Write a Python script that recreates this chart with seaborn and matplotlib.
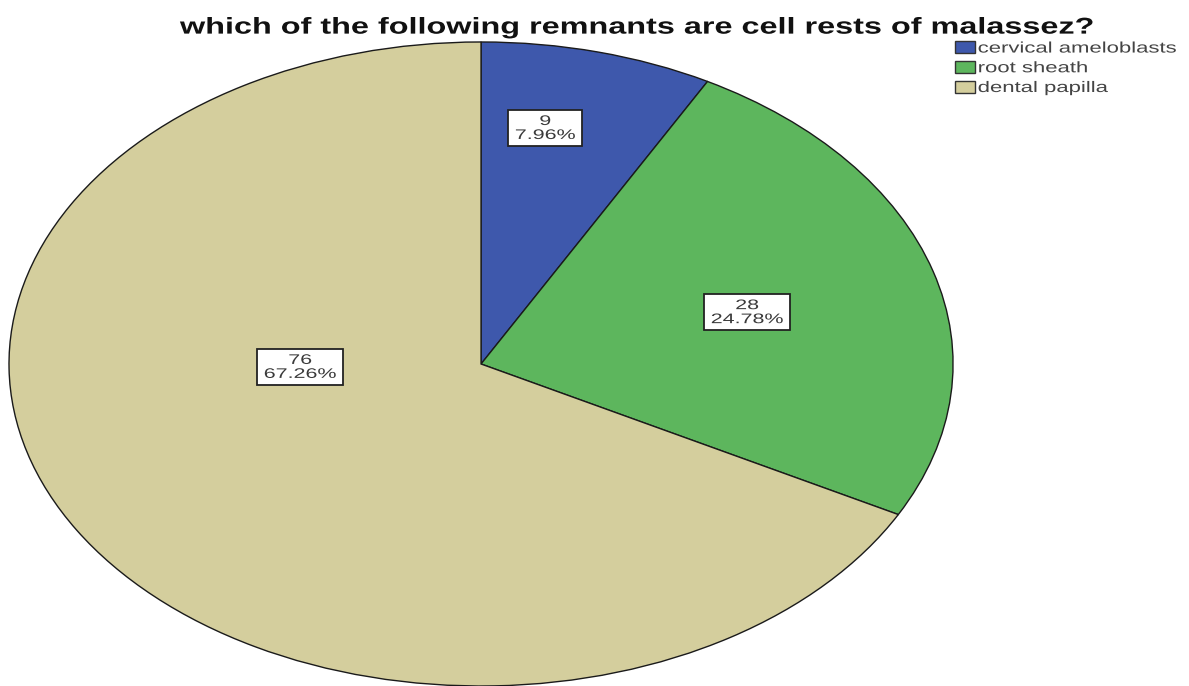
import matplotlib
matplotlib.use("Agg")
from matplotlib import pyplot as plt
from matplotlib.patheffects import AbstractPathEffect
from matplotlib.transforms import Affine2D
import seaborn as sns

# Data
categories = ["cervical ameloblasts", "root sheath", "dental papilla"]
counts = [9, 28, 76]
percents = [7.96, 24.78, 67.26]

colors = sns.color_palette(["#3E58AC", "#5DB65D", "#D4CE9D"])
# label box centres (axes data units, pie radius = 1)
label_pos = [(0.136, 0.733), (0.564, 0.161), (-0.383, -0.009)]


class Stretch(AbstractPathEffect):
    """Widen drawn glyphs/boxes horizontally about their left edge or centre."""

    def __init__(self, sx, anchor="center"):
        super().__init__()
        self.sx = sx
        self.anchor = anchor

    def draw_path(self, renderer, gc, tpath, affine, rgbFace=None):
        if self.anchor == "left":
            cx = affine.transform((0, 0))[0]
        else:
            ext = tpath.get_extents(affine)
            cx = (ext.x0 + ext.x1) / 2
        new = affine + Affine2D().translate(-cx, 0).scale(self.sx, 1).translate(cx, 0)
        renderer.draw_path(gc, tpath, new, rgbFace)


sns.set_style("white")
plt.rcParams["font.family"] = ["Liberation Sans", "DejaVu Sans"]

fig = plt.figure(figsize=(11.89, 6.86), dpi=100)
ax = fig.add_axes([0.00757, 0.0, 0.794, 0.9388])

wedges, _ = ax.pie(counts, colors=colors, startangle=90, counterclock=False,
                   radius=1.0, wedgeprops=dict(edgecolor="#1a1a1a", linewidth=1.0))
ax.set_aspect("auto")
ax.set_xlim(-1, 1)
ax.set_ylim(-1, 1)
ax.axis("off")

labels = []
for (x, y), c, p in zip(label_pos, counts, percents):
    t = ax.text(x, y, f"{c}\n{p:.2f}%", ha="center", va="center", fontsize=10,
                color="#3a3a3a", linespacing=1.0,
                bbox=dict(boxstyle="square,pad=0.3", facecolor="white",
                          edgecolor="#222222", linewidth=1.3))
    labels.append(t)

title = fig.text(180 / 1189, 0.951, "which of the following remnants are cell rests of malassez?",
                 ha="left", va="baseline", fontsize=16.5, fontweight="bold", color="#111111")

leg = fig.legend(wedges, categories, loc="upper left", bbox_to_anchor=(0.803, 0.94),
                 frameon=False, fontsize=11, handlelength=1.3, handleheight=0.85,
                 handletextpad=0.2, labelspacing=0.35, borderaxespad=0, borderpad=0,
                 labelcolor="#444444")
for h in leg.legend_handles:
    h.set_edgecolor("#333333")
    h.set_linewidth(1.0)

# the reference picture is stretched sideways; widen text to the measured widths
fig.canvas.draw()
r = fig.canvas.get_renderer()

sx_title = 912 / title.get_window_extent(r).width
title.set_path_effects([Stretch(sx_title, "left")])

leg_w = max(t.get_window_extent(r).width for t in leg.get_texts())
sx_leg = 198 / leg_w
for txt in leg.get_texts():
    txt.set_path_effects([Stretch(sx_leg, "left")])

lab_w = labels[2].get_window_extent(r).width
sx_lab = 73 / lab_w
for t in labels:
    t.set_path_effects([Stretch(sx_lab)])
    t.get_bbox_patch().set_path_effects([Stretch(sx_lab)])

fig.savefig("out.png", dpi=100)
